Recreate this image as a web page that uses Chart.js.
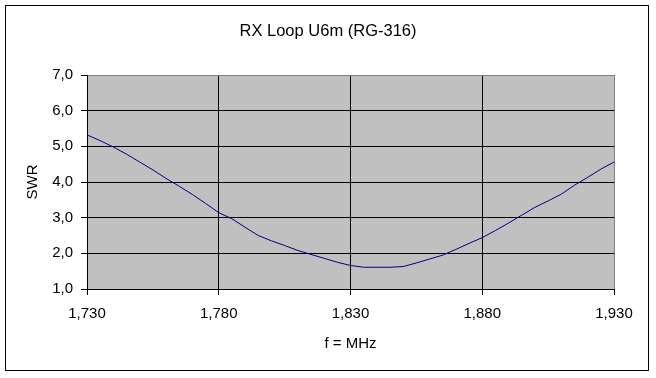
<!DOCTYPE html>
<html>
<head>
<meta charset="utf-8">
<script src="https://cdn.jsdelivr.net/npm/chart.js@4"></script>
<style>
  html, body { margin: 0; padding: 0; background: #fff; }
  #wrap { width: 656px; height: 378px; }
</style>
</head>
<body>
<div id="wrap"><canvas id="swrChart" width="656" height="378"></canvas></div>
<script>
// КСВ приёмной петли
const TITLE = 'RX Loop U6m (RG-316)';
const FREQ = [
  1.730, 1.735, 1.740, 1.745, 1.750, 1.755, 1.760, 1.765, 1.770, 1.775,
  1.780, 1.785, 1.790, 1.795, 1.800, 1.805, 1.810, 1.815, 1.820, 1.825,
  1.830, 1.835, 1.840, 1.845, 1.850, 1.855, 1.860, 1.865, 1.870, 1.875,
  1.880, 1.885, 1.890, 1.895, 1.900, 1.905, 1.910, 1.915, 1.920, 1.925,
  1.930
];
const SWR = [
  5.32, 5.16, 4.98, 4.78, 4.56, 4.34, 4.10, 3.88, 3.65, 3.40,
  3.14, 2.97, 2.73, 2.50, 2.35, 2.22, 2.08, 1.97, 1.86, 1.75,
  1.66, 1.61, 1.61, 1.61, 1.63, 1.73, 1.84, 1.95, 2.11, 2.28,
  2.44, 2.64, 2.85, 3.07, 3.29, 3.47, 3.66, 3.91, 4.13, 4.36,
  4.56
];
const X_TICKS = [1.730, 1.780, 1.830, 1.880, 1.930];
const Y_TICKS = [1, 2, 3, 4, 5, 6, 7];

const FONT = "'Liberation Sans', Arial, sans-serif";

// серый фон области построения, рамка вокруг диаграммы и заголовок по центру всего холста
const excelFrame = {
  id: 'excelFrame',
  beforeDraw(chart) {
    const { ctx, chartArea: a } = chart;
    ctx.save();
    ctx.fillStyle = '#fff';
    ctx.fillRect(0, 0, chart.width, chart.height);
    ctx.fillStyle = '#c0c0c0';
    ctx.fillRect(a.left, a.top, a.right - a.left, a.bottom - a.top);
    ctx.strokeStyle = '#000';
    ctx.lineWidth = 1;
    ctx.strokeRect(5.5, 5.5, 643, 365);
    ctx.fillStyle = '#000';
    ctx.font = '16.5px ' + FONT;
    ctx.textAlign = 'center';
    ctx.textBaseline = 'middle';
    ctx.fillText(TITLE, chart.width / 2, 31);
    ctx.restore();
  }
};

new Chart(document.getElementById('swrChart'), {
  type: 'line',
  data: {
    datasets: [{
      data: FREQ.map((f, i) => ({ x: f, y: SWR[i] })),
      borderColor: '#000080',
      borderWidth: 1,
      pointRadius: 0,
      tension: 0,
      fill: false
    }]
  },
  options: {
    responsive: false,
    animation: false,
    layout: { padding: { left: 0, right: 42, top: 75, bottom: 0 } },
    plugins: {
      legend: { display: false },
      tooltip: { enabled: false },
      title: { display: false }
    },
    scales: {
      x: {
        type: 'linear',
        min: 1.73,
        max: 1.93,
        afterFit: s => { s.height = 89; },
        afterBuildTicks: s => { s.ticks = X_TICKS.map(v => ({ value: v })); },
        grid: {
          color: c => (c.tick && c.tick.value === 1.93 ? '#808080' : '#000'),
          tickColor: '#000',
          tickLength: 6,
          lineWidth: 1
        },
        border: { color: '#000', width: 1 },
        ticks: {
          color: '#000',
          padding: 10,
          maxRotation: 0,
          font: { family: FONT, size: 15 },
          callback: v => v.toFixed(3).replace('.', ',')
        },
        title: {
          display: true,
          text: 'f = MHz',
          color: '#000',
          font: { family: FONT, size: 15 },
          padding: { top: 0, bottom: 25.5 }
        }
      },
      y: {
        min: 1,
        max: 7,
        afterFit: s => { s.width = 87; },
        afterBuildTicks: s => { s.ticks = Y_TICKS.map(v => ({ value: v })); },
        grid: {
          color: c => (c.tick && c.tick.value === 7 ? '#808080' : '#000'),
          tickColor: '#000',
          tickLength: 6,
          lineWidth: 1
        },
        border: { color: '#000', width: 1 },
        ticks: {
          color: '#000',
          padding: 8,
          font: { family: FONT, size: 15 },
          callback: v => v.toFixed(1).replace('.', ',')
        },
        title: {
          display: true,
          text: 'SWR',
          color: '#000',
          font: { family: FONT, size: 15 },
          padding: { top: 23.5, bottom: 0 }
        }
      }
    }
  },
  plugins: [excelFrame]
});
</script>
</body>
</html>
